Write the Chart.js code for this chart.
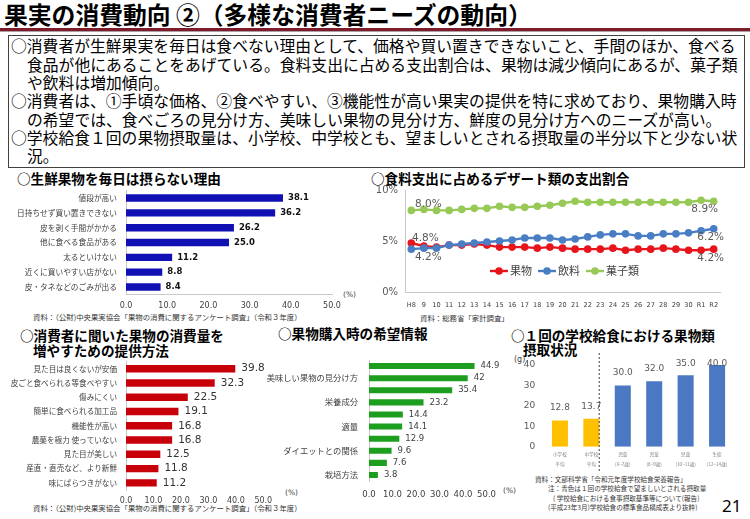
<!DOCTYPE html>
<html lang="ja"><head><meta charset="utf-8">
<script src="https://cdn.jsdelivr.net/npm/chart.js@4.4.1/dist/chart.umd.min.js"></script>
<style>
html,body{margin:0;padding:0}
body{width:750px;height:519px;position:relative;overflow:hidden;background:#fff;font-family:"Noto Sans CJK JP",sans-serif;color:#000}
.t{position:absolute;white-space:nowrap;line-height:1}
.cv{position:absolute}
#title{left:4px;top:2px;font-size:23.8px;font-weight:700}
#rule1{position:absolute;left:0;top:28px;width:750px;height:3px;background:#7b1b2b}
#rule2{position:absolute;left:0;top:31px;width:750px;height:1px;background:#b0a0a4}
#box{position:absolute;left:8px;top:35px;width:737px;height:133px;border:1px solid #404040;box-sizing:border-box}
.bl{position:absolute;font-size:15.8px;line-height:18px;white-space:nowrap}
.st{font-size:13.6px;font-weight:700}
.src{font-size:7.4px;color:#333}
.src2{font-size:6.6px;color:#333}
.pc{font-family:"DejaVu Sans",sans-serif;font-size:7.5px;color:#404040}
</style></head>
<body>
<div class="t" id="title">果実の消費動向 ②（多様な消費者ニーズの動向）</div>
<div id="rule1"></div><div id="rule2"></div>
<div id="box"></div>
<div class="bl" style="left:11px;top:37px">○消費者が生鮮果実を毎日は食べない理由として、価格や買い置きできないこと、手間のほか、食べる</div>
<div class="bl" style="left:27px;top:55.5px">食品が他にあることをあげている。食料支出に占める支出割合は、果物は減少傾向にあるが、菓子類</div>
<div class="bl" style="left:27px;top:74px">や飲料は増加傾向。</div>
<div class="bl" style="left:11px;top:92px">○消費者は、①手頃な価格、②食べやすい、③機能性が高い果実の提供を特に求めており、果物購入時</div>
<div class="bl" style="left:27px;top:110.5px">の希望では、食べごろの見分け方、美味しい果物の見分け方、鮮度の見分け方へのニーズが高い。</div>
<div class="bl" style="left:11px;top:129px">○学校給食１回の果物摂取量は、小学校、中学校とも、望ましいとされる摂取量の半分以下と少ない状</div>
<div class="bl" style="left:27px;top:147px">況。</div>

<div class="t st" style="left:17px;top:172.4px">○生鮮果物を毎日は摂らない理由</div>
<div class="t st" style="left:371px;top:172.4px">○食料支出に占めるデザート類の支出割合</div>
<div class="t st" style="left:20px;top:329.4px">○消費者に聞いた果物の消費量を</div>
<div class="t st" style="left:33px;top:344.4px">増やすための提供方法</div>
<div class="t st" style="left:278px;top:327.4px">○果物購入時の希望情報</div>
<div class="t st" style="left:511px;top:329.4px">○１回の学校給食における果物類</div>
<div class="t st" style="left:523px;top:343.4px">摂取状況</div>

<div class="t src" style="left:33px;top:313px">資料：（公財)中央果実協会「果物の消費に関するアンケート調査」（令和３年度）</div>
<div class="t src" style="left:420px;top:314px">資料：総務省「家計調査」</div>
<div class="t src" style="left:33px;top:504px">資料：（公財)中央果実協会「果物の消費に関するアンケート調査」（令和３年度）</div>
<div class="t src2" style="left:535px;top:476.3px">資料：文部科学省「令和元年度学校給食栄養報告」</div>
<div class="t src2" style="left:548px;top:485.3px">注：青色は１回の学校給食で望ましいとされる摂取量</div>
<div class="t src2" style="left:553px;top:495.3px">( 学校給食における食事摂取基準等について(報告)</div>
<div class="t src2" style="left:548px;top:504.3px">(平成23年3月)学校給食の標準食品構成表より抜粋)</div>

<div class="t pc" style="left:343px;top:291px">(%)</div>
<div class="t pc" style="left:285px;top:489px">(%)</div>
<div class="t pc" style="left:503px;top:487px">(%)</div>
<div class="t pc" style="left:514px;top:356px;font-size:8px">(g)</div>
<div class="t" style="left:722px;top:497px;font-family:'Noto Sans',sans-serif;font-size:17px">21</div>

<canvas class="cv" id="c5" width="245" height="125" style="left:505px;top:350px"></canvas>
<canvas class="cv" id="c1" width="372" height="138" style="left:0;top:177px"></canvas>
<canvas class="cv" id="c2" width="385" height="138" style="left:360px;top:175px"></canvas>
<canvas class="cv" id="c3" width="300" height="162" style="left:0;top:348px"></canvas>
<canvas class="cv" id="c4" width="245" height="161" style="left:260px;top:344px"></canvas>

<script>
// ---------- data ----------
const reasonLabels = ['値段が高い','日持ちせず買い置きできない','皮を剥く手間がかかる','他に食べる食品がある','太るといけない','近くに買いやすい店がない','皮・タネなどのごみが出る'];
const reasonValues = [38.1, 36.2, 26.2, 25.0, 11.2, 8.8, 8.4];

const yearLabels = ['H8','9','10','11','12','13','14','15','16','17','18','19','20','21','22','23','24','25','26','27','28','29','30','R1','R2'];
const fruitShare  = [4.8,4.5,4.4,4.6,4.6,4.7,4.6,4.4,4.4,4.4,4.3,4.4,4.3,4.2,4.2,4.2,4.3,4.1,4.2,4.2,4.3,4.2,4.1,4.1,4.2];
const drinkShare  = [4.2,4.3,4.3,4.6,4.7,4.8,4.9,5.0,5.1,5.3,5.3,5.3,5.1,5.2,5.4,5.6,5.7,5.7,5.5,5.5,5.7,5.7,5.8,6.0,6.2];
const sweetsShare = [8.0,8.1,8.0,8.0,8.1,8.2,8.2,8.4,8.3,8.3,8.4,8.5,8.7,8.9,8.8,8.8,8.8,8.8,8.8,8.8,8.8,8.8,8.8,9.0,8.9];
const shareSeriesNames = ['果物','飲料','菓子類'];

const methodLabels = ['見た目は良くないが安価','皮ごと食べられる等食べやすい','傷みにくい','簡単に食べられる加工品','機能性が高い','農薬を極力 使っていない','見た目が美しい','産直・直売など、より新鮮','味にばらつきがない'];
const methodValues = [39.8, 32.3, 22.5, 19.1, 16.8, 16.8, 12.5, 11.8, 11.2];

const infoLabels = ['','美味しい果物の見分け方','','栄養成分','','適量','','ダイエットとの関係','','栽培方法'];
const infoValues = [44.9, 42, 35.4, 23.2, 14.4, 14.1, 12.9, 9.6, 7.6, 3.8];

const lunchLabels = [['小学校','平均'],['中学校','平均'],['児童','(6~7歳)'],['児童','(8~9歳)'],['児童','(10~11歳)'],['生徒','(12~14歳)']];
const lunchActual = [12.8, 13.7, null, null, null, null];
const lunchTarget = [null, null, 30.0, 32.0, 35.0, 40.0];

// ---------- helpers ----------
const JP = '"Noto Sans CJK JP", sans-serif';
const NUM = '"DejaVu Sans", sans-serif';

function valuePlugin(cfg){
  return {
    id:'vals_'+Math.random().toString(36).slice(2),
    afterDatasetsDraw(chart){
      const ctx = chart.ctx;
      ctx.save();
      ctx.font = cfg.font; ctx.fillStyle = cfg.color;
      chart.data.datasets.forEach((ds, di) => {
        const meta = chart.getDatasetMeta(di);
        meta.data.forEach((el, i) => {
          const v = ds.data[i];
          if (v === null || v === undefined) return;
          const txt = cfg.format(v);
          if (chart.options.indexAxis === 'y') {
            ctx.textAlign = 'left'; ctx.textBaseline = 'middle';
            ctx.fillText(txt, el.x + cfg.offset, el.y + (cfg.dy||0));
          } else {
            ctx.textAlign = 'center'; ctx.textBaseline = 'middle';
            const y = Math.max(el.y - cfg.offset, chart.chartArea.top - 1);
            ctx.fillText(txt, el.x, y);
          }
        });
      });
      ctx.restore();
    }
  };
}

function hbar(id, labels, values, o){
  return new Chart(document.getElementById(id), {
    type:'bar',
    data:{labels:labels, datasets:[{data:values, backgroundColor:o.color, categoryPercentage:1, barPercentage:o.barPct}]},
    options:{
      indexAxis:'y', responsive:false, animation:false, events:[],
      layout:{padding:{left:0, right:o.padR, top:o.padT, bottom:0}},
      plugins:{legend:{display:false}, tooltip:{enabled:false}},
      scales:{
        x:{min:0, max:50,
           ticks:{stepSize:10, callback:v=>Number(v).toFixed(1), font:{family:NUM, size:o.xFont}, color:'#404040', padding:o.xPad, maxRotation:0, autoSkip:false},
           grid:{display:false, drawTicks:false},
           border:{display:o.xBorder, color:'#c8c8c8'},
           afterFit:s=>{s.height = o.xH;}},
        y:{ticks:{font:{family:JP, size:o.yFont}, color:'#404040', padding:o.yPad, autoSkip:false},
           grid:{display:false, drawTicks:false},
           border:{display:true, color:'#c8c8c8'},
           afterFit:s=>{s.width = o.yW;}}
      }
    },
    plugins:[valuePlugin({font:o.vFont, color:o.vColor, offset:o.vOff, format:o.fmt})]
  });
}

const charts = [];

// ---------- chart 5 : school lunch (created first) ----------
const dashedDivider = {
  id:'dashedDivider',
  afterDatasetsDraw(chart){
    const xs = chart.scales.x, ctx = chart.ctx;
    const x = xs.getPixelForValue(1) + 0.25*(xs.getPixelForValue(2) - xs.getPixelForValue(1));
    ctx.save(); ctx.strokeStyle = '#404040'; ctx.lineWidth = 1; ctx.setLineDash([2,2]);
    ctx.beginPath(); ctx.moveTo(x, chart.chartArea.top - 12); ctx.lineTo(x, chart.chartArea.bottom + 25); ctx.stroke();
    ctx.restore();
  }
};
charts.push(new Chart(document.getElementById('c5'), {
  type:'bar',
  data:{labels:lunchLabels, datasets:[
    {data:lunchActual, backgroundColor:'#ffc000', categoryPercentage:1, barPercentage:0.51, grouped:false},
    {data:lunchTarget, backgroundColor:'#4a78c2', categoryPercentage:1, barPercentage:0.51, grouped:false}
  ]},
  options:{
    responsive:false, animation:false, events:[],
    layout:{padding:{left:0, right:17.2, top:15, bottom:0}},
    plugins:{legend:{display:false}, tooltip:{enabled:false}},
    scales:{
      x:{grid:{display:false, drawTicks:false}, border:{display:true, color:'rgba(0,0,0,0)'},
         ticks:{autoSkip:false, maxRotation:0, font:{family:JP, size:4.6, lineHeight:2.1}, color:'#7f7f7f', padding:3},
         afterFit:s=>{s.height = 28.3;}},
      y:{display:true, position:'left', min:0, max:40, grid:{display:false, drawTicks:false}, border:{display:true, color:'rgba(0,0,0,0)'},
         ticks:{display:true, stepSize:10, font:{family:NUM, size:9}, color:'#595959', padding:9},
         afterFit:s=>{s.width = 39.2;}}
    }
  },
  plugins:[valuePlugin({font:'9px '+NUM, color:'#595959', offset:12.5, format:v=>v.toFixed(1)}), dashedDivider]
}));

// ---------- chart 1 : reasons ----------
charts.push(hbar('c1', reasonLabels, reasonValues, {
  color:'#1010b4', barPct:0.5, padR:40, padT:13.6, xH:20.6, yW:126,
  xFont:8, xPad:7, yFont:7.7, yPad:9, xBorder:true,
  vFont:'bold 8.5px '+NUM, vColor:'#111', vOff:5, fmt:v=>v.toFixed(1)
}));

// ---------- chart 3 : methods ----------
charts.push(hbar('c3', methodLabels, methodValues, {
  color:'#c8000a', barPct:0.52, padR:36.7, padT:13.2, xH:20, yW:126,
  xFont:8, xPad:6, yFont:7.6, yPad:9, xBorder:false,
  vFont:'10.5px '+NUM, vColor:'#333', vOff:6, fmt:v=>v.toFixed(1)
}));

// ---------- chart 4 : info ----------
charts.push(hbar('c4', infoLabels, infoValues, {
  color:'#1e9e1e', barPct:0.5, padR:5.7, padT:16, xH:24, yW:109,
  xFont:8.5, xPad:9, yFont:8.3, yPad:11, xBorder:false,
  vFont:'8.5px '+NUM, vColor:'#404040', vOff:6, fmt:v=>String(v)
}));

// ---------- chart 2 : dessert share ----------
const RED = '#e8141c', BLUE = '#4a7ec4', GREEN = '#97c957';
const lineLabelSpots = [
  {ds:2, i:0, dx:17, dy:-6},
  {ds:0, i:0, dx:14, dy:-5},
  {ds:1, i:0, dx:17, dy:8},
  {ds:2, i:24, dx:-9, dy:8},
  {ds:1, i:24, dx:-3, dy:9},
  {ds:0, i:24, dx:-3, dy:9}
];
const lineLabels = {
  id:'lineLabels',
  afterDatasetsDraw(chart){
    const ctx = chart.ctx; ctx.save();
    ctx.font = '10.5px '+NUM; ctx.fillStyle = '#595959';
    ctx.textAlign = 'center'; ctx.textBaseline = 'middle';
    lineLabelSpots.forEach(s => {
      const el = chart.getDatasetMeta(s.ds).data[s.i];
      const v = chart.data.datasets[s.ds].data[s.i];
      ctx.fillText(v.toFixed(1)+'%', el.x + s.dx, el.y + s.dy);
    });
    ctx.restore();
  }
};
const innerLegend = {
  id:'innerLegend',
  afterDraw(chart){
    const ctx = chart.ctx; ctx.save();
    const a = chart.chartArea;
    let x = a.left + 85; const y = a.top + 81;
    ctx.font = '11px '+JP; ctx.textBaseline = 'middle'; ctx.textAlign = 'left';
    chart.data.datasets.forEach(ds => {
      ctx.strokeStyle = ds.borderColor; ctx.lineWidth = 2.4;
      ctx.beginPath(); ctx.moveTo(x, y); ctx.lineTo(x + 18, y); ctx.stroke();
      ctx.fillStyle = ds.borderColor;
      ctx.beginPath(); ctx.arc(x + 9, y, 3.8, 0, Math.PI*2); ctx.fill();
      ctx.fillStyle = '#404040';
      ctx.fillText(ds.label, x + 20, y);
      x += 20 + ctx.measureText(ds.label).width + 6;
    });
    ctx.restore();
  }
};
function lineDs(label, data, color, order){
  return {label:label, data:data, borderColor:color, backgroundColor:color, pointBackgroundColor:color,
          pointBorderColor:color, pointRadius:3.8, pointBorderWidth:0, borderWidth:2.4, tension:0, order:order};
}
charts.push(new Chart(document.getElementById('c2'), {
  type:'line',
  data:{labels:yearLabels, datasets:[
    lineDs(shareSeriesNames[0], fruitShare, RED, 1),
    lineDs(shareSeriesNames[1], drinkShare, BLUE, 0),
    lineDs(shareSeriesNames[2], sweetsShare, GREEN, 2)
  ]},
  options:{
    responsive:false, animation:false, events:[],
    layout:{padding:{left:0, right:25, top:15, bottom:0}},
    plugins:{legend:{display:false}, tooltip:{enabled:false}},
    scales:{
      x:{offset:true, grid:{display:false, drawTicks:false}, border:{color:'#c8c8c8'},
         ticks:{autoSkip:false, maxRotation:0, font:{family:NUM, size:6.6}, color:'#404040', padding:9},
         afterFit:s=>{s.height = 21;}},
      y:{min:0, max:10, grid:{display:false, drawTicks:false}, border:{color:'#c8c8c8'},
         ticks:{stepSize:5, callback:v=>v+'%', font:{family:NUM, size:10}, color:'#595959', padding:7},
         afterFit:s=>{s.width = 45;}}
    }
  },
  plugins:[lineLabels, innerLegend]
}));

// read back each canvas once so every one is fully rasterised before the photo
charts.forEach(c => { try { c.ctx.getImageData(0, 0, 1, 1); } catch(e) {} });
</script>
</body></html>
